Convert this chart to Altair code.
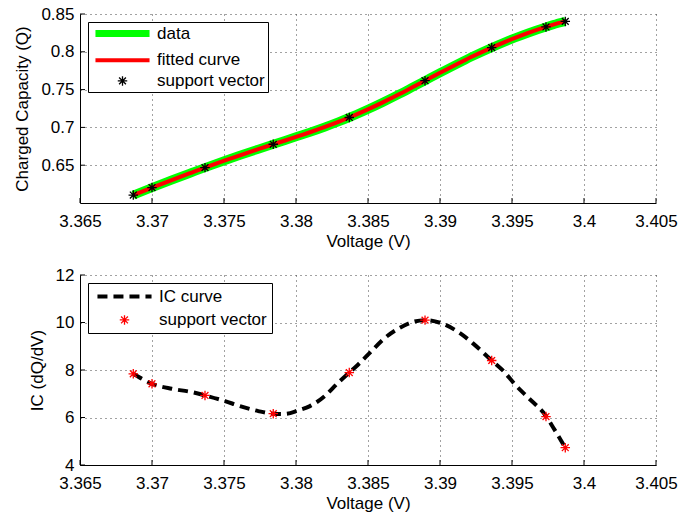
import altair as alt
import pandas as pd

# ---------------- data ----------------
volt = [3.3687, 3.3700, 3.37137, 3.37276, 3.37368, 3.37507, 3.37611, 3.37738, 3.37842,
        3.37924, 3.38016, 3.38097, 3.38201, 3.38294, 3.3837, 3.38421, 3.38514, 3.38606,
        3.38722, 3.38815, 3.38896, 3.39000, 3.39151, 3.39231, 3.39359, 3.3944, 3.39521,
        3.39613, 3.39736, 3.39787, 3.3987]
cap_data = [0.6105, 0.6204, 0.6304, 0.6403, 0.6468, 0.6563, 0.6631, 0.6712, 0.6777,
            0.6827, 0.6885, 0.6936, 0.7006, 0.7073, 0.7131, 0.7172, 0.7251, 0.7334,
            0.7444, 0.7537, 0.7618, 0.7722, 0.7869, 0.7944, 0.8056, 0.8122, 0.8184,
            0.8250, 0.8329, 0.8359, 0.8402]
cap_fit = [0.6105, 0.6204, 0.6304, 0.6403, 0.6468, 0.6563, 0.6631, 0.6712, 0.6777,
           0.6827, 0.6885, 0.6936, 0.7006, 0.7073, 0.7131, 0.7172, 0.7251, 0.7334,
           0.7444, 0.7537, 0.7618, 0.7722, 0.7869, 0.7944, 0.8056, 0.8122, 0.8184,
           0.8250, 0.8329, 0.8359, 0.8402]

sv_volt = [3.3687, 3.3700, 3.37368, 3.37842, 3.3837, 3.38896, 3.39359, 3.39736, 3.3987]
sv_cap = [0.6105, 0.6204, 0.6468, 0.6777, 0.7131, 0.7618, 0.8056, 0.8329, 0.8402]
sv_ic = [7.84, 7.42, 6.93, 6.16, 7.89, 10.10, 8.40, 6.04, 4.73]

ic_volt = [3.3687, 3.3700, 3.37137, 3.37276, 3.37368, 3.37507, 3.37611, 3.37738, 3.37842,
           3.37924, 3.38016, 3.38097, 3.38201, 3.38294, 3.3837, 3.38421, 3.38514, 3.38606,
           3.38722, 3.38815, 3.38896, 3.39000, 3.39151, 3.39231, 3.39359, 3.3944, 3.39521,
           3.39613, 3.39736, 3.39787, 3.3987]
ic_val = [7.84, 7.42, 7.21, 7.07, 6.93, 6.69, 6.48, 6.27, 6.16,
          6.15, 6.30, 6.48, 6.91, 7.47, 7.89, 8.17, 8.73, 9.29,
          9.78, 10.03, 10.10, 9.99, 9.50, 9.11, 8.40, 7.96, 7.39,
          6.83, 6.06, 5.57, 4.73]

x_ticks = [3.365, 3.37, 3.375, 3.38, 3.385, 3.39, 3.395, 3.4, 3.405]
cap_ticks = [0.65, 0.7, 0.75, 0.8, 0.85]
ic_ticks = [4, 6, 8, 10, 12]

top_series = ["data", "fitted curve", "support vector"]
bot_series = ["IC curve", "support vector"]

# ---------------- styling ----------------
FONT = "Liberation Sans"
FS = 17
ASTER = "M-1,0L1,0M0,-1L0,1M-0.72,-0.72L0.72,0.72M-0.72,0.72L0.72,-0.72"
LINE = "M-5.7,0L5.7,0"
W = 576
H1 = 189
H2 = 190

x_scale = alt.Scale(domain=[3.365, 3.405], nice=False, zero=False)
x_axis = alt.Axis(values=x_ticks, format=".3~f", title="Voltage (V)")
cap_scale = alt.Scale(domain=[0.6, 0.85], nice=False, zero=False)
cap_axis = alt.Axis(values=cap_ticks, format=".2~f", title="Charged Capacity (Q)")
ic_scale = alt.Scale(domain=[4, 12], nice=False, zero=False)
ic_axis = alt.Axis(values=ic_ticks, format="d", title="IC (dQ/dV)")


def legend(pad, row_pad):
    return alt.Legend(
        title=None, orient="top-left", offset=8, fillColor="white", strokeColor="black",
        padding=pad, rowPadding=row_pad, symbolSize=90, symbolOffset=23, labelOffset=26,
        labelFont=FONT, labelFontSize=FS, labelColor="black",
        labelExpr="datum.label + '\u00a0\u00a0\u00a0\u00a0'",
    )


# ---------------- top panel ----------------
top_df = pd.DataFrame({"volt": volt, "cap_data": cap_data, "cap_fit": cap_fit})
sv_top_df = pd.DataFrame({"volt": sv_volt, "cap": sv_cap, "series": "support vector"})

X = alt.X("volt:Q", scale=x_scale, axis=x_axis)

green = alt.Chart(top_df).mark_line(color="#00ff00", strokeWidth=9, strokeJoin="round",
                                    interpolate="monotone").encode(
    x=X, y=alt.Y("cap_data:Q", scale=cap_scale, axis=cap_axis))
red = alt.Chart(top_df).mark_line(color="#ff0000", strokeWidth=4, interpolate="monotone").encode(
    x=X, y=alt.Y("cap_fit:Q", scale=cap_scale, axis=cap_axis))
xt_top = alt.Chart(pd.DataFrame({"volt": x_ticks})).mark_rule(color="black").encode(
    x=X, y=alt.value(H1), y2=alt.value(H1 - 5))
yt_top = alt.Chart(pd.DataFrame({"cap": cap_ticks})).mark_rule(color="black").encode(
    y=alt.Y("cap:Q", scale=cap_scale, axis=cap_axis), x=alt.value(0), x2=alt.value(5))
lt = legend(3, 2.7)
pts_top = alt.Chart(sv_top_df).mark_point(filled=False, size=90, opacity=1).encode(
    x=X,
    y=alt.Y("cap:Q", scale=cap_scale, axis=cap_axis),
    color=alt.Color("series:N", scale=alt.Scale(domain=top_series, range=["#00ff00", "#ff0000", "#000000"]), legend=lt),
    shape=alt.Shape("series:N", scale=alt.Scale(domain=top_series, range=[LINE, LINE, ASTER]), legend=lt),
    strokeWidth=alt.StrokeWidth("series:N", scale=alt.Scale(type="ordinal", domain=top_series, range=[7, 4, 1.3]), legend=lt),
)
top = alt.layer(green, red, xt_top, yt_top, pts_top).properties(width=W, height=H1)

# ---------------- bottom panel ----------------
ic_df = pd.DataFrame({"volt": ic_volt, "ic": ic_val})
sv_bot_df = pd.DataFrame({"volt": sv_volt, "ic": sv_ic, "series": "support vector"})

icline = alt.Chart(ic_df).mark_line(color="black", strokeWidth=4, strokeDash=[10, 6], interpolate="monotone").encode(
    x=X, y=alt.Y("ic:Q", scale=ic_scale, axis=ic_axis))
xt_bot = alt.Chart(pd.DataFrame({"volt": x_ticks})).mark_rule(color="black").encode(
    x=X, y=alt.value(H2), y2=alt.value(H2 - 5))
yt_bot = alt.Chart(pd.DataFrame({"ic": ic_ticks})).mark_rule(color="black").encode(
    y=alt.Y("ic:Q", scale=ic_scale, axis=ic_axis), x=alt.value(0), x2=alt.value(5))
lb = legend(5, 5.4)
pts_bot = alt.Chart(sv_bot_df).mark_point(filled=False, size=90, opacity=1).encode(
    x=X,
    y=alt.Y("ic:Q", scale=ic_scale, axis=ic_axis),
    color=alt.Color("series:N", scale=alt.Scale(domain=bot_series, range=["#000000", "#ff0000"]), legend=lb),
    shape=alt.Shape("series:N", scale=alt.Scale(domain=bot_series, range=[LINE, ASTER]), legend=lb),
    strokeWidth=alt.StrokeWidth("series:N", scale=alt.Scale(type="ordinal", domain=bot_series, range=[4, 1.3]), legend=lb),
    strokeDash=alt.StrokeDash("series:N", scale=alt.Scale(domain=bot_series, range=[[10, 6], [1, 0]]), legend=lb),
)
bottom = alt.layer(icline, xt_bot, yt_bot, pts_bot).properties(width=W, height=H2)

chart = (
    alt.vconcat(top, bottom, spacing=15)
    .resolve_scale(color="independent", shape="independent", strokeWidth="independent", strokeDash="independent")
    .resolve_legend(color="independent", shape="independent", strokeWidth="independent", strokeDash="independent")
    .properties(padding={"left": 13, "top": 4, "right": 5, "bottom": 5}, background="white")
    .configure_view(stroke="transparent")
    .configure_axis(
        labelFont=FONT, labelFontSize=FS, labelColor="black",
        titleFont=FONT, titleFontSize=FS, titleColor="black", titleFontWeight="normal",
        domainColor="black", domainWidth=1, tickSize=0,
        labelFlush=False, labelOverlap=False,
        gridColor="#444444", gridDash=[1, 4], gridWidth=1, gridOpacity=1,
    )
    .configure_axisX(labelPadding=10, titlePadding=4)
    .configure_axisY(labelPadding=6, titlePadding=9)
)

chart.save("out.html", embed_options={"renderer": "svg", "actions": False})
